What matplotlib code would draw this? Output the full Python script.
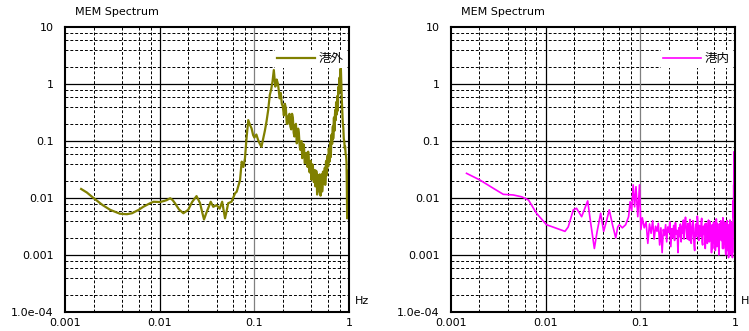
import matplotlib
matplotlib.use("Agg")
import matplotlib.pyplot as plt
from matplotlib.ticker import FixedLocator, NullFormatter

plt.rcParams["font.family"] = ["DejaVu Sans", "Noto Sans CJK JP"]

# ---------------------------------------------------------------- data
# 港外 (outside harbour), main trace
out_f = [0.00148, 0.0017, 0.002, 0.0025, 0.003, 0.0038, 0.0045, 0.0051, 0.006, 0.0067,
         0.0078, 0.0086, 0.0101, 0.0112, 0.0119, 0.0129, 0.0137, 0.0145, 0.016, 0.0178,
         0.020, 0.022, 0.0245, 0.0267, 0.0282, 0.0294, 0.031, 0.0346, 0.0368, 0.0399,
         0.043, 0.0457, 0.0475, 0.049, 0.0505, 0.0529, 0.0574, 0.0625, 0.0651, 0.0706,
         0.0735, 0.0765, 0.0796, 0.0826, 0.0862, 0.09, 0.0934, 0.097, 0.1, 0.105,
         0.1096, 0.114, 0.1188, 0.124, 0.129, 0.1343, 0.14, 0.1455, 0.1505, 0.1555,
         0.1605, 0.1665, 0.172, 0.1777, 0.185, 0.19, 0.195, 0.2,
         0.21, 0.22, 0.23, 0.24, 0.25, 0.26, 0.27, 0.28, 0.29, 0.30,
         0.31, 0.32, 0.33, 0.34, 0.35, 0.36, 0.37, 0.38, 0.39, 0.40,
         0.41, 0.42, 0.43, 0.44, 0.45, 0.46, 0.47, 0.48, 0.49, 0.50,
         0.51, 0.52, 0.53, 0.54, 0.55, 0.56, 0.57, 0.58, 0.59, 0.60,
         0.61, 0.62, 0.63, 0.64, 0.65, 0.66, 0.67, 0.68, 0.69, 0.70,
         0.71, 0.72, 0.73, 0.74, 0.75, 0.76, 0.77, 0.78, 0.79, 0.80,
         0.81, 0.815, 0.82, 0.83, 0.84, 0.85, 0.86, 0.87, 0.88, 0.89,
         0.90, 0.91, 0.92, 0.93, 0.94, 0.95, 0.955, 0.96, 0.97, 0.98, 0.99, 1.0]
out_v = [0.0144, 0.0125, 0.0100, 0.0075, 0.0062, 0.0053, 0.0052, 0.0054, 0.0062, 0.0070,
         0.0080, 0.0086, 0.0085, 0.0089, 0.0092, 0.0099, 0.0092, 0.0081, 0.0063, 0.0054,
         0.0062, 0.0085, 0.0108, 0.0081, 0.0055, 0.0042, 0.0054, 0.0086, 0.0070, 0.0075,
         0.0065, 0.0086, 0.0060, 0.0044, 0.0055, 0.0081, 0.0086, 0.0121, 0.0129, 0.0207,
         0.0434, 0.035, 0.0497, 0.111, 0.233, 0.19, 0.167, 0.127, 0.115, 0.13,
         0.104, 0.09, 0.079, 0.111, 0.15, 0.218, 0.35, 0.64, 0.8, 1.1,
         1.76, 0.9, 1.2, 1.0, 0.56, 0.7, 0.45, 0.4,
         0.45, 0.20, 0.28, 0.18, 0.30, 0.14, 0.19, 0.091, 0.165, 0.089,
         0.094, 0.050, 0.088, 0.041, 0.060, 0.039, 0.065, 0.030, 0.043, 0.021,
         0.039, 0.024, 0.0275, 0.016, 0.030, 0.0115, 0.023, 0.015, 0.026, 0.011,
         0.023, 0.013, 0.029, 0.0195, 0.0275, 0.017, 0.043, 0.025, 0.047, 0.037,
         0.074, 0.043, 0.082, 0.052, 0.12, 0.094, 0.14, 0.11, 0.25, 0.15,
         0.29, 0.23, 0.48, 0.29, 0.54, 0.34, 0.83, 0.68, 1.1, 0.84,
         1.8, 1.0, 1.9, 0.9, 0.5, 0.32, 0.2, 0.17, 0.11, 0.10,
         0.075, 0.08, 0.06, 0.055, 0.043, 0.012, 0.0044, 0.02, 0.03, 0.008, 0.005, 0.0045]
# 港外, extra readings inside the noisy band
out_f2 = [0.205, 0.215, 0.225, 0.235, 0.245, 0.255, 0.265, 0.275, 0.285, 0.295,
          0.305, 0.315, 0.325, 0.335, 0.345, 0.355, 0.365, 0.375, 0.385, 0.395,
          0.405, 0.415, 0.425, 0.435, 0.445, 0.455, 0.465, 0.475, 0.485, 0.495,
          0.505, 0.515, 0.525, 0.535, 0.545, 0.555, 0.565, 0.575, 0.585, 0.595,
          0.605, 0.615, 0.625, 0.635, 0.645, 0.655, 0.665, 0.675, 0.685, 0.695,
          0.705, 0.715, 0.725, 0.735, 0.745, 0.755, 0.765, 0.775, 0.785, 0.795, 0.805]
out_v2 = [0.28, 0.38, 0.2, 0.3, 0.16, 0.26, 0.12, 0.2, 0.1, 0.14,
          0.07, 0.1, 0.058, 0.075, 0.042, 0.062, 0.035, 0.052, 0.028, 0.045,
          0.025, 0.036, 0.019, 0.031, 0.017, 0.027, 0.014, 0.025, 0.013, 0.024,
          0.015, 0.026, 0.016, 0.028, 0.018, 0.034, 0.022, 0.045, 0.029, 0.056,
          0.036, 0.068, 0.05, 0.095, 0.066, 0.13, 0.09, 0.18, 0.13, 0.26,
          0.18, 0.35, 0.24, 0.45, 0.31, 0.62, 0.45, 0.9, 0.7, 1.3, 1.0]

# 港内 (inside harbour), main trace
in_f = [0.00146, 0.00202, 0.0028, 0.00357, 0.00455, 0.00558, 0.0066, 0.008, 0.0102, 0.0126,
        0.016, 0.0173, 0.0196, 0.0212, 0.024, 0.0278, 0.0298, 0.0327, 0.035, 0.0381,
        0.041, 0.044, 0.047, 0.0508, 0.055, 0.0577, 0.06, 0.0646, 0.07, 0.0752,
        0.078, 0.081, 0.084, 0.087, 0.09, 0.094, 0.098, 0.1015,
        0.105, 0.110, 0.115, 0.120, 0.125, 0.130, 0.135, 0.140, 0.145, 0.150,
        0.155, 0.160, 0.165, 0.170, 0.175, 0.180, 0.185, 0.190, 0.195, 0.200,
        0.205, 0.210, 0.215, 0.220, 0.225, 0.230, 0.235, 0.240, 0.245, 0.250,
        0.255, 0.260, 0.265, 0.270, 0.275, 0.280, 0.285, 0.290, 0.295, 0.300,
        0.31, 0.32, 0.33, 0.34, 0.35, 0.36, 0.37, 0.38, 0.39, 0.40,
        0.41, 0.42, 0.43, 0.44, 0.45, 0.46, 0.47, 0.48, 0.49, 0.50,
        0.51, 0.52, 0.53, 0.54, 0.55, 0.56, 0.57, 0.58, 0.59, 0.60,
        0.61, 0.62, 0.63, 0.64, 0.65, 0.66, 0.67, 0.68, 0.69, 0.70,
        0.71, 0.72, 0.73, 0.74, 0.75, 0.76, 0.77, 0.78, 0.79, 0.80,
        0.81, 0.82, 0.83, 0.84, 0.85, 0.86, 0.87, 0.88, 0.89, 0.90,
        0.91, 0.92, 0.93, 0.94, 0.95, 0.96, 0.965, 0.97, 0.975, 0.98, 0.985, 0.99, 1.0]
in_v = [0.0271, 0.0207, 0.0148, 0.0116, 0.0113, 0.0105, 0.0092, 0.0054, 0.0034, 0.0030,
        0.0026, 0.0031, 0.0062, 0.0066, 0.0047, 0.0089, 0.0038, 0.0013, 0.0026, 0.0054,
        0.0026, 0.0040, 0.0062, 0.0034, 0.0020, 0.0031, 0.0034, 0.0030, 0.0034, 0.0047,
        0.0086, 0.006, 0.017, 0.007, 0.0158, 0.0047, 0.017, 0.0028,
        0.0045, 0.0030, 0.0038, 0.0016, 0.0035, 0.0024, 0.0040, 0.0019, 0.0032, 0.0026,
        0.0036, 0.0015, 0.0030, 0.0011, 0.0028, 0.0022, 0.0034, 0.0017, 0.0031, 0.0025,
        0.0038, 0.0014, 0.0029, 0.0020, 0.0033, 0.0018, 0.0037, 0.0023, 0.0027, 0.0011,
        0.0030, 0.0021, 0.0035, 0.0017, 0.0032, 0.0024, 0.0041, 0.0019, 0.0034, 0.0046,
        0.0022, 0.0036, 0.0018, 0.0031, 0.0024, 0.0040, 0.0015, 0.0029, 0.0021, 0.0048,
        0.0019, 0.0033, 0.0026, 0.0038, 0.0017, 0.0030, 0.0023, 0.0035, 0.0020, 0.0029,
        0.0016, 0.0034, 0.0025, 0.0039, 0.0018, 0.0028, 0.0022, 0.0013, 0.0031, 0.0024,
        0.0037, 0.0012, 0.0030, 0.0021, 0.0036, 0.0019, 0.0027, 0.0011, 0.0033, 0.0024,
        0.0040, 0.0018, 0.0029, 0.0013, 0.0034, 0.0022, 0.0038, 0.0016, 0.0028, 0.0010,
        0.0031, 0.0023, 0.0036, 0.0012, 0.0030, 0.0020, 0.0034, 0.0010, 0.0028, 0.0024,
        0.0037, 0.0015, 0.0032, 0.0009, 0.0030, 0.0090, 0.0045, 0.017, 0.006, 0.065, 0.010, 0.0011, 0.06]
# 港内, extra readings inside the noisy band
in_f2 = [0.305, 0.315, 0.325, 0.335, 0.345, 0.355, 0.365, 0.375, 0.385, 0.395,
         0.405, 0.415, 0.425, 0.435, 0.445, 0.455, 0.465, 0.475, 0.485, 0.495,
         0.505, 0.515, 0.525, 0.535, 0.545, 0.555, 0.565, 0.575, 0.585, 0.595,
         0.605, 0.615, 0.625, 0.635, 0.645, 0.655, 0.665, 0.675, 0.685, 0.695,
         0.705, 0.715, 0.725, 0.735, 0.745, 0.755, 0.765, 0.775, 0.785, 0.795,
         0.805, 0.815, 0.825, 0.835, 0.845, 0.855, 0.865, 0.875, 0.885, 0.895,
         0.905, 0.915, 0.925, 0.935, 0.945]
in_v2 = [0.0031, 0.0019, 0.0027, 0.0042, 0.0016, 0.0033, 0.0022, 0.0012, 0.0035, 0.0026,
         0.0039, 0.0018, 0.0029, 0.0021, 0.0044, 0.0015, 0.0032, 0.0024, 0.0013, 0.0036,
         0.0027, 0.0020, 0.0041, 0.0017, 0.0030, 0.0023, 0.0011, 0.0034, 0.0025, 0.0038,
         0.0016, 0.0029, 0.0022, 0.0043, 0.0014, 0.0031, 0.0026, 0.0010, 0.0035, 0.0021,
         0.0039, 0.0018, 0.0028, 0.0024, 0.0045, 0.0013, 0.0032, 0.0020, 0.0037, 0.0011,
         0.0030, 0.0025, 0.0040, 0.0017, 0.0033, 0.0009, 0.0029, 0.0022, 0.0041, 0.0014,
         0.0031, 0.0026, 0.0036, 0.0010, 0.0028]

x_major = [0.001, 0.01, 0.1, 1]
x_labels = ["0.001", "0.01", "0.1", "1"]
y_major = [1e-4, 1e-3, 1e-2, 1e-1, 1, 10]
y_labels = ["1.0e-04", "0.001", "0.01", "0.1", "1", "10"]
mult = [2, 4, 6, 8]


def merged(f1, v1, f2, v2):
    pts = sorted(zip(f1 + f2, v1 + v2))
    return [p[0] for p in pts], [p[1] for p in pts]


series = [("港外", *merged(out_f, out_v, out_f2, out_v2), "#808000", 1.6, 0.0868),
          ("港内", *merged(in_f, in_v, in_f2, in_v2), "#FF00FF", 1.2, 0.6021)]

# ---------------------------------------------------------------- figure
fig = plt.figure(figsize=(7.49, 3.31), dpi=100)
for name, fx, fy, color, lw, left in series:
    ax = fig.add_axes([left, 0.0574, 0.3792, 0.861])
    ax.set_xscale("log"); ax.set_yscale("log")
    ax.set_xlim(0.001, 1); ax.set_ylim(1e-4, 10)

    # grid: dashed minors at 2,4,6,8; solid majors
    xmin = [m * d for d in x_major[:-1] for m in mult]
    ymin = [m * d for d in y_major[:-1] for m in mult]
    for v in xmin:
        ax.axvline(v, color="black", lw=0.7, ls=(0, (3, 2)), zorder=1)
    for v in ymin:
        ax.axhline(v, color="black", lw=0.7, ls=(0, (3, 2)), zorder=1)
    for v in y_major[1:-1]:
        ax.axhline(v, color="black", lw=0.9, zorder=1)
    ax.axvline(0.01, color="black", lw=0.9, zorder=1)
    ax.axvline(0.1, color="#808080", lw=0.9, zorder=1)

    ax.plot(fx, fy, color=color, lw=lw, label=name, zorder=3)

    ax.xaxis.set_major_locator(FixedLocator(x_major))
    ax.set_xticklabels(x_labels, fontsize=8)
    ax.yaxis.set_major_locator(FixedLocator(y_major))
    ax.set_yticklabels(y_labels, fontsize=8)
    ax.xaxis.set_minor_formatter(NullFormatter())
    ax.yaxis.set_minor_formatter(NullFormatter())
    ax.tick_params(which="both", length=0)
    ax.tick_params(axis="x", pad=4)
    ax.tick_params(axis="y", pad=8)
    for sp in ax.spines.values():
        sp.set_linewidth(1.5); sp.set_color("black"); sp.set_zorder(5)

    ax.text(0.035, 1.035, "MEM Spectrum", transform=ax.transAxes,
            fontsize=8, ha="left", va="bottom")
    ax.text(1.02, 0.04, "Hz", transform=ax.transAxes, fontsize=8,
            ha="left", va="center")

    leg = ax.legend(loc="center right", bbox_to_anchor=(0.99, 0.888),
                    handlelength=3.0, handletextpad=0.3,
                    borderpad=0.2, borderaxespad=0, frameon=True,
                    fancybox=False, framealpha=1,
                    prop={"family": ["Noto Sans CJK JP"], "size": 9})
    leg.get_frame().set_facecolor("white"); leg.get_frame().set_edgecolor("none")
    leg.set_zorder(4)

fig.savefig("out.png", dpi=100, facecolor="white")
